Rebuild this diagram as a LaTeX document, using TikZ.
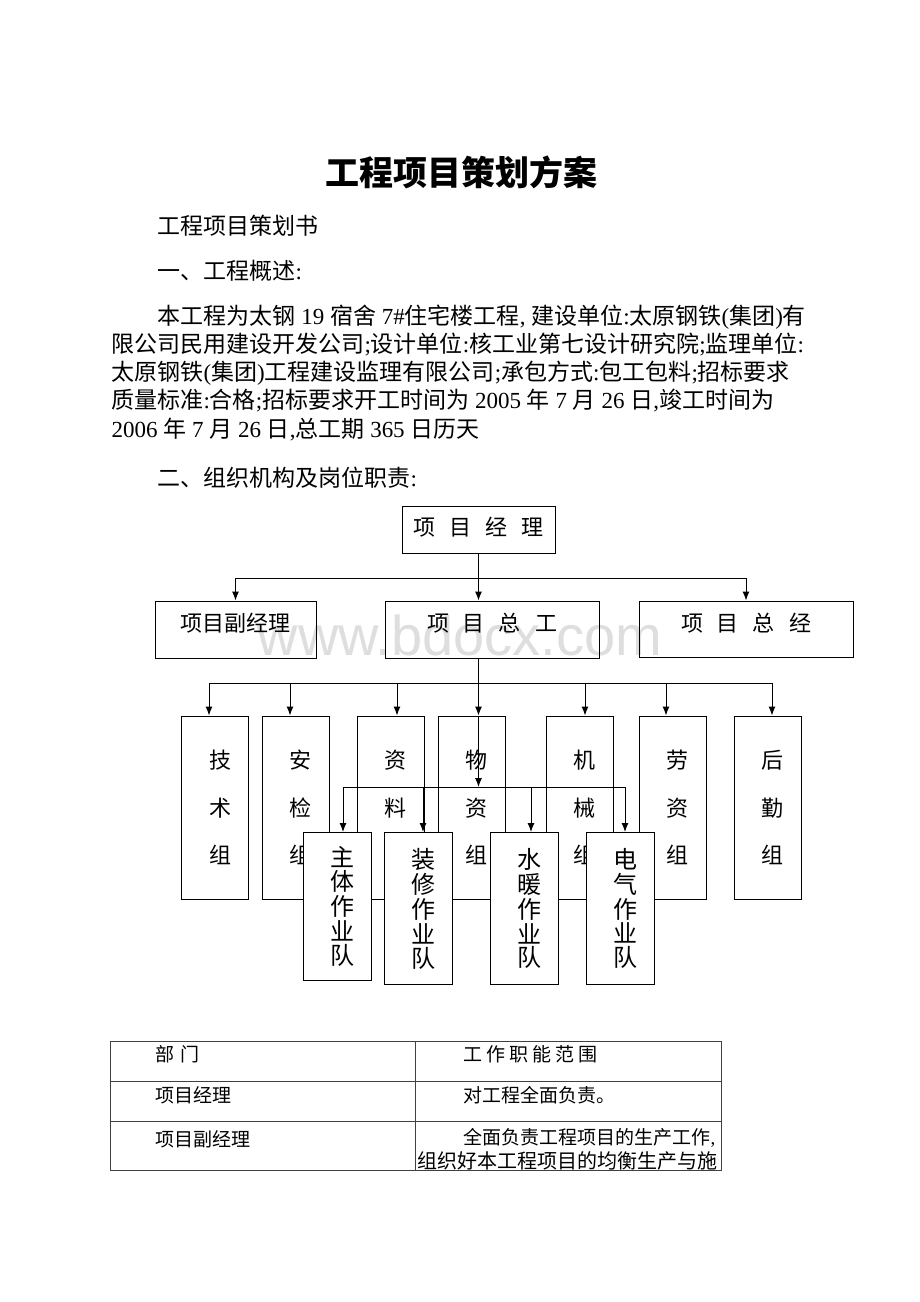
\documentclass[tikz,border=0pt]{standalone}
\usepackage{fontspec}
\setmainfont{Liberation Serif}
\newfontfamily\cjk{Noto Sans CJK SC}
\newfontfamily\wmfont{Liberation Sans}
\usetikzlibrary{arrows.meta}

\newcommand{\tm}[1]{{\rmfamily #1}}
\newcommand{\gap}{\hspace{14pt}}

\tikzset{
  box/.style={draw, line width=1pt, inner sep=0pt, font=\cjk\fontsize{22}{22}\selectfont},
  group/.style={box, minimum width=67pt, minimum height=183pt},
  team/.style={box, fill=white, minimum width=68pt, font=\cjk\fontsize{24}{24}\selectfont},
  body/.style={anchor=base west, inner sep=0pt, font=\cjk\fontsize{23}{28}\selectfont},
  cell/.style={anchor=base west, inner sep=0pt, font=\cjk\fontsize{19}{19}\selectfont},
  tabline/.style={draw=black!75, line width=1pt},
}

\begin{document}
\begin{tikzpicture}[x=1pt, y=-1pt, >={Latex[length=9pt,width=7pt]}, line width=1pt]
  \useasboundingbox (0,0) rectangle (920,1302);
  \fill[white] (0,0) rectangle (920,1302);

  % text of the page
  \node[anchor=base, inner sep=0pt, font=\cjk\bfseries\fontsize{34}{34}\selectfont] (title) at (461,185) {工程项目策划方案};
  \node[body] (sub) at (157,234) {工程项目策划书};
  \node[body] (sec1) at (157,279) {一、工程概述\tm{:}};
  \node[body] (l1) at (157,324) {本工程为太钢\tm{~19~}宿舍\tm{~7\#}住宅楼工程\tm{,~}建设单位\tm{:}太原钢铁\tm{(}集团\tm{)}有};
  \node[body] (l2) at (111,352.3) {限公司民用建设开发公司\tm{;}设计单位\tm{:}核工业第七设计研究院\tm{;}监理单位\tm{:}};
  \node[body] (l3) at (111,380.5) {太原钢铁\tm{(}集团\tm{)}工程建设监理有限公司\tm{;}承包方式\tm{:}包工包料\tm{;}招标要求};
  \node[body] (l4) at (111,408.8) {质量标准\tm{:}合格\tm{;}招标要求开工时间为\tm{~2005~}年\tm{~7~}月\tm{~26~}日\tm{,}竣工时间为};
  \node[body] (l5) at (111,437) {\tm{2006~}年\tm{~7~}月\tm{~26~}日\tm{,}总工期\tm{~365~}日历天};
  \node[body] (sec2) at (157,486) {二、组织机构及岗位职责\tm{:}};

  \node[inner sep=0pt, font=\wmfont\fontsize{56}{56}\selectfont, text=black!13] (wm) at (460,635) {www.bdocx.com};

  % chart
  \node[box, minimum width=153pt, minimum height=47pt, text height=17pt, text depth=5pt] (pm) at (478.5,529.5) {项\gap 目\gap 经\gap 理};
  \node[box, minimum width=161pt, minimum height=57pt, text height=17pt, text depth=13pt] (vice) at (235.5,629.5) {项目副经理};
  \node[box, minimum width=214pt, minimum height=57pt, text height=17pt, text depth=13pt] (chief) at (492,629.5) {项\gap 目\gap 总\gap 工};
  \node[box, minimum width=214pt, minimum height=56pt, text height=17pt, text depth=13pt] (gm) at (746,629) {项\gap 目\gap 总\gap 经};

  \foreach \n/\x/\a/\b/\c in {tech/215/技/术/组, safe/295.5/安/检/组, docs/390.5/资/料/组, mat/471.5/物/资/组, mach/579.5/机/械/组, labor/672.5/劳/资/组, logi/767.5/后/勤/组}
    \node[group] (\n) at (\x,807.5) {\hspace*{10pt}\shortstack{\a\\[24pt]\b\\[24pt]\c}};

  \foreach \n/\x/\h/\a/\b in {main/337/148/主/体, deco/418/152/装/修, plumb/524.5/152/水/暖, elec/620/152/电/气}
    \node[team, minimum height=\h pt, anchor=north] (\n) at (\x,832) {\hspace*{10pt}\shortstack{\a\\\b\\作\\业\\队}};

  \coordinate (j1) at (478.5,578);
  \coordinate (j2) at (478.5,683);
  \coordinate (j3) at (478.5,787);

  \draw (pm) -- (j1);
  \draw[->] (j1) -| (vice);
  \draw[->] (j1) -- (j1 |- chief.north);
  \draw[->] (j1) -| (gm);

  \draw (j1 |- chief.south) -- (j2);
  \foreach \n/\x in {tech/209, safe/290, docs/397, mat/478.5, mach/585, labor/666, logi/772} {
    \coordinate (d-\n) at (\x,683);
    \draw[->] (d-\n) -- (d-\n |- \n.north);
  }
  \draw (d-tech) -- (d-logi);

  \draw[->] (mat.north -| j3) -- (j3);
  \foreach \n/\x in {main/343, deco/423, plumb/531, elec/625} {
    \coordinate (t-\n) at (\x,787);
    \draw[->] (t-\n) -- (t-\n |- \n.north);
  }
  \draw (t-main) -- (t-elec);

  % table
  \draw[tabline] (110,1041) rectangle (721,1170);
  \draw[tabline] (110,1081) -- (721,1081);
  \draw[tabline] (110,1121) -- (721,1121);
  \draw[tabline] (415,1041) -- (415,1170);

  \node[cell] (c11) at (155,1061) {部\hspace{6pt}门};
  \node[cell] (c12) at (463,1061) {工\hspace{4pt}作\hspace{4pt}职\hspace{4pt}能\hspace{4pt}范\hspace{4pt}围};
  \node[cell] (c21) at (155,1102) {项目经理};
  \node[cell] (c22) at (463,1102) {对工程全面负责。};
  \node[cell] (c31) at (155,1146) {项目副经理};
  \node[cell] (c32) at (463,1144) {全面负责工程项目的生产工作\tm{,}};
  \node[cell, font=\cjk\fontsize{20}{20}\selectfont] (c33) at (417,1168) {组织好本工程项目的均衡生产与施};
\end{tikzpicture}
\end{document}
